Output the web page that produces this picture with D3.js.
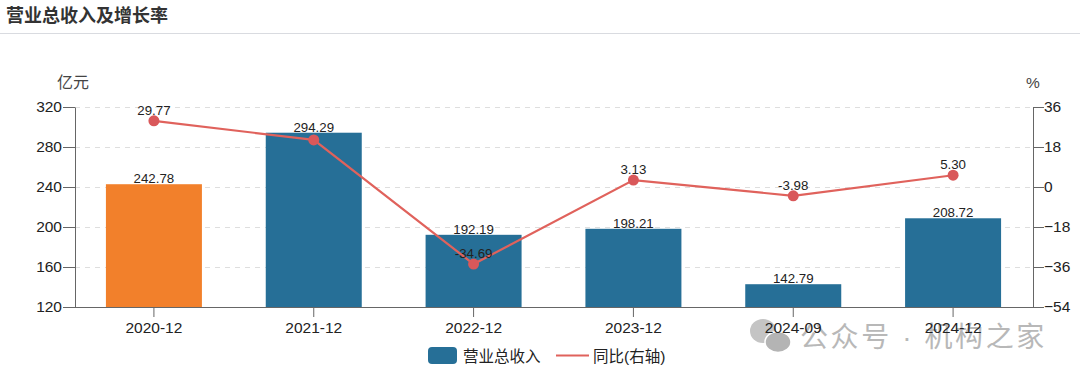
<!DOCTYPE html>
<html><head><meta charset="utf-8">
<script src="https://cdnjs.cloudflare.com/ajax/libs/d3/7.8.5/d3.min.js"></script>
<style>
html,body{margin:0;padding:0;background:#fff;width:1080px;height:380px;overflow:hidden}
text{font-family:"Liberation Sans","Noto Sans CJK SC",sans-serif}
</style></head><body><svg id="c" width="1080" height="380"></svg>
<script>
const categories=["2020-12","2021-12","2022-12","2023-12","2024-09","2024-12"];
const revenue=[242.78,294.29,192.19,198.21,142.79,208.72];
const revenueLabels=["242.78","294.29","192.19","198.21","142.79","208.72"];
const growth=[29.77,21.2,-34.69,3.13,-3.98,5.30];
const growthLabels=["29.77","","-34.69","3.13","-3.98","5.30"];
const barColors=["#f2802b","#266f97","#266f97","#266f97","#266f97","#266f97"];
const leftTicks=[120,160,200,240,280,320];
const rightTicks=[-54,-36,-18,0,18,36];
const titleText="营业总收入及增长率";
const legendBar="营业总收入",legendLine="同比(右轴)";
const watermark="公众号 · 机构之家";

const svg=d3.select("#c");
const L=75,R=1033,T=107,B=307;
const x=d3.scaleBand().domain(categories).range([74,1033]);
const yL=d3.scaleLinear().domain([120,320]).range([B,T]);
const yR=d3.scaleLinear().domain([-54,36]).range([B,T]);
const barW=96;
const cx=d=>x(d)+x.bandwidth()/2;

svg.append("text").attr("x",6).attr("y",22).attr("font-size",18).attr("font-weight",700).attr("fill","#333").text(titleText);
svg.append("line").attr("x1",0).attr("x2",1080).attr("y1",33.5).attr("y2",33.5).attr("stroke","#d9dbe0").attr("stroke-width",1);

svg.append("g").selectAll("line").data(leftTicks.slice(1)).join("line")
 .attr("x1",L).attr("x2",R).attr("y1",d=>yL(d)+0.5).attr("y2",d=>yL(d)+0.5)
 .attr("stroke","#dedede").attr("stroke-dasharray","5 5");

svg.append("g").selectAll("rect").data(categories).join("rect")
 .attr("x",d=>cx(d)-barW/2).attr("width",barW)
 .attr("y",(d,i)=>yL(revenue[i])).attr("height",(d,i)=>B-yL(revenue[i]))
 .attr("fill",(d,i)=>barColors[i]);

// watermark sits under the axis labels
const wm=svg.append("g");
wm.append("ellipse").attr("cx",763).attr("cy",331).attr("rx",13).attr("ry",12).attr("fill","#c4c4c4");
wm.append("ellipse").attr("cx",778).attr("cy",342).attr("rx",13).attr("ry",10.5).attr("fill","#b4b4b4").attr("stroke","#fff").attr("stroke-width",1.5);
wm.append("text").attr("x",800).attr("y",347).attr("font-size",28).attr("letter-spacing",2.6).attr("fill","#b8b8b8").text(watermark);

function styleAxis(g){
 g.selectAll("path,line").attr("stroke","#666");
 g.selectAll("text").attr("font-size",15.5).attr("fill","#222").attr("font-family",'"Liberation Sans",sans-serif');
}
svg.append("g").attr("transform",`translate(${L},0)`)
 .call(d3.axisLeft(yL).tickValues(leftTicks).tickSize(12).tickPadding(1).tickSizeOuter(0)).call(styleAxis);
svg.append("g").attr("transform",`translate(${R},0)`)
 .call(d3.axisRight(yR).tickValues(rightTicks).tickSize(11).tickPadding(0).tickSizeOuter(0)).call(styleAxis);
svg.append("g").attr("transform",`translate(0,${B})`)
 .call(d3.axisBottom(x).tickSize(10).tickPadding(5).tickSizeOuter(0)).call(styleAxis);

svg.append("text").attr("x",57).attr("y",88).attr("font-size",16).attr("fill","#444").text("亿元");
svg.append("text").attr("x",1026).attr("y",88).attr("font-size",15.5).attr("fill","#444").text("%");

const line=d3.line().x((d,i)=>cx(categories[i])).y(d=>yR(d));
svg.append("path").attr("d",line(growth)).attr("fill","none").attr("stroke","#e0625c").attr("stroke-width",2.2);
svg.append("g").selectAll("circle").data(growth).join("circle")
 .attr("cx",(d,i)=>cx(categories[i])).attr("cy",d=>yR(d)).attr("r",5.5).attr("fill","#d9585a");

svg.append("g").selectAll("text").data(revenueLabels).join("text")
 .attr("x",(d,i)=>cx(categories[i])).attr("y",(d,i)=>yL(revenue[i])-1)
 .attr("text-anchor","middle").attr("font-size",13.3).attr("fill","#222").text(d=>d);
svg.append("g").selectAll("text").data(growthLabels).join("text")
 .attr("x",(d,i)=>cx(categories[i])).attr("y",(d,i)=>yR(growth[i])-6)
 .attr("text-anchor","middle").attr("font-size",13.3).attr("fill","#222").text(d=>d);

svg.append("rect").attr("x",428).attr("y",347).attr("width",29).attr("height",17).attr("rx",4).attr("fill","#266f97");
svg.append("text").attr("x",463).attr("y",362).attr("font-size",15.5).attr("fill","#222").text(legendBar);
svg.append("line").attr("x1",556).attr("x2",589).attr("y1",355.5).attr("y2",355.5).attr("stroke","#e0625c").attr("stroke-width",2.2);
svg.append("text").attr("x",593).attr("y",362).attr("font-size",15.5).attr("fill","#222").text(legendLine);
</script></body></html>
